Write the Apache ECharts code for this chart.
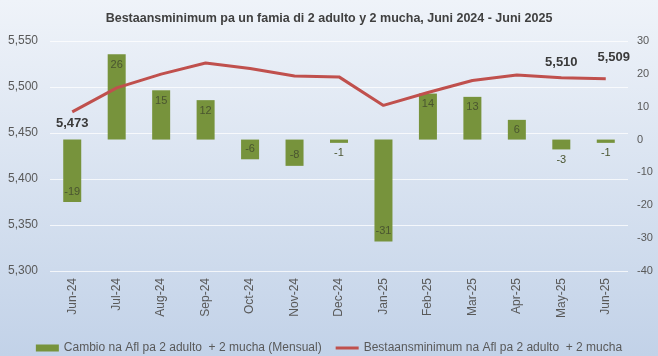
<!DOCTYPE html>
<html><head><meta charset="utf-8">
<script src="https://cdn.jsdelivr.net/npm/echarts@6/dist/echarts.min.js"></script>
<style>html,body{margin:0;padding:0;}#c{width:658px;height:356px;background:linear-gradient(#eff3f9,#c2d2e8);}</style>
</head><body><div id="c"></div>
<script>
const categories = ['Jun-24','Jul-24','Aug-24','Sep-24','Oct-24','Nov-24','Dec-24','Jan-25','Feb-25','Mar-25','Apr-25','May-25','Jun-25'];
const cambio = [-19, 26, 15, 12, -6, -8, -1, -31, 14, 13, 6, -3, -1];
const minimum = [5473, 5499, 5514, 5526, 5520, 5512, 5511, 5480, 5494, 5507, 5513, 5510, 5509];
const leftTicks = [5300, 5550, 50];
const rightTicks = [-40, 30, 10];
const labeledPoints = [0, 11, 12];

const FONT = '"Liberation Sans", Arial, sans-serif';
const fmt = v => v.toLocaleString('en-US');

const barData = cambio.map(v => {
  let pos = v > 0 ? 'insideTop' : (v <= -5 ? 'insideBottom' : 'bottom');
  return {value: v, label: {position: pos}};
});
const labelCfg = {
  0: {position: 'bottom', distance: 5},
  11: {position: 'top', distance: 9},
  12: {position: 'top', distance: 15, offset: [8, 0]}
};
const lineData = minimum.map((v, i) => {
  if (labeledPoints.indexOf(i) < 0) return {value: v};
  return {value: v, label: Object.assign({show: true}, labelCfg[i])};
});

const chart = echarts.init(document.getElementById('c'), null, {renderer: 'canvas'});
chart.setOption({
  animation: false,
  textStyle: {fontFamily: FONT},
  title: {text: 'Bestaansminimum pa un famia di 2 adulto y 2 mucha, Juni 2024 - Juni 2025', left: 'center', top: 7,
    textStyle: {fontFamily: FONT, fontSize: 12.5, fontWeight: 'bold', color: '#404040'}},
  grid: {left: 50, right: 30, top: 41, height: 230},
  legend: {top: 337, left: 'center', itemGap: 14, itemWidth: 23, itemHeight: 7,
    textStyle: {fontFamily: FONT, fontSize: 12, color: '#595959'},
    data: [{name: 'Cambio na Afl pa 2 adulto  + 2 mucha (Mensual)', icon: 'rect'},
           {name: 'Bestaansminimum na Afl pa 2 adulto  + 2 mucha', icon: 'path://M0,0 M23,7 M0,2 L23,2 L23,5 L0,5 Z'}]},
  xAxis: {type: 'category', data: categories, axisLine: {show: false}, axisTick: {show: false},
    axisLabel: {rotate: 90, color: '#595959', fontSize: 12, margin: 7, fontFamily: FONT}},
  yAxis: [
    {type: 'value', min: leftTicks[0], max: leftTicks[1], interval: leftTicks[2],
     axisLabel: {color: '#595959', fontSize: 12, margin: 12, fontFamily: FONT, formatter: v => fmt(v)},
     splitLine: {lineStyle: {color: 'rgba(255,255,255,0.75)', width: 1}}},
    {type: 'value', min: rightTicks[0], max: rightTicks[1], interval: rightTicks[2],
     axisLabel: {color: '#595959', fontSize: 11, margin: 9, fontFamily: FONT},
     splitLine: {show: false}}
  ],
  series: [
    {name: 'Cambio na Afl pa 2 adulto  + 2 mucha (Mensual)', type: 'bar', yAxisIndex: 1, data: barData,
     barWidth: 18, itemStyle: {color: '#77933C'},
     label: {show: true, color: '#4a5530', fontSize: 11, fontFamily: FONT, distance: 5}},
    {name: 'Bestaansminimum na Afl pa 2 adulto  + 2 mucha', type: 'line', yAxisIndex: 0, data: lineData,
     symbol: 'circle', symbolSize: 0, showSymbol: true,
     lineStyle: {color: '#C0504D', width: 3}, itemStyle: {color: '#C0504D'},
     label: {show: false, color: '#3a3a3a', fontSize: 13, fontWeight: 'bold', fontFamily: FONT, formatter: p => fmt(p.value)}}
  ]
});
</script></body></html>
